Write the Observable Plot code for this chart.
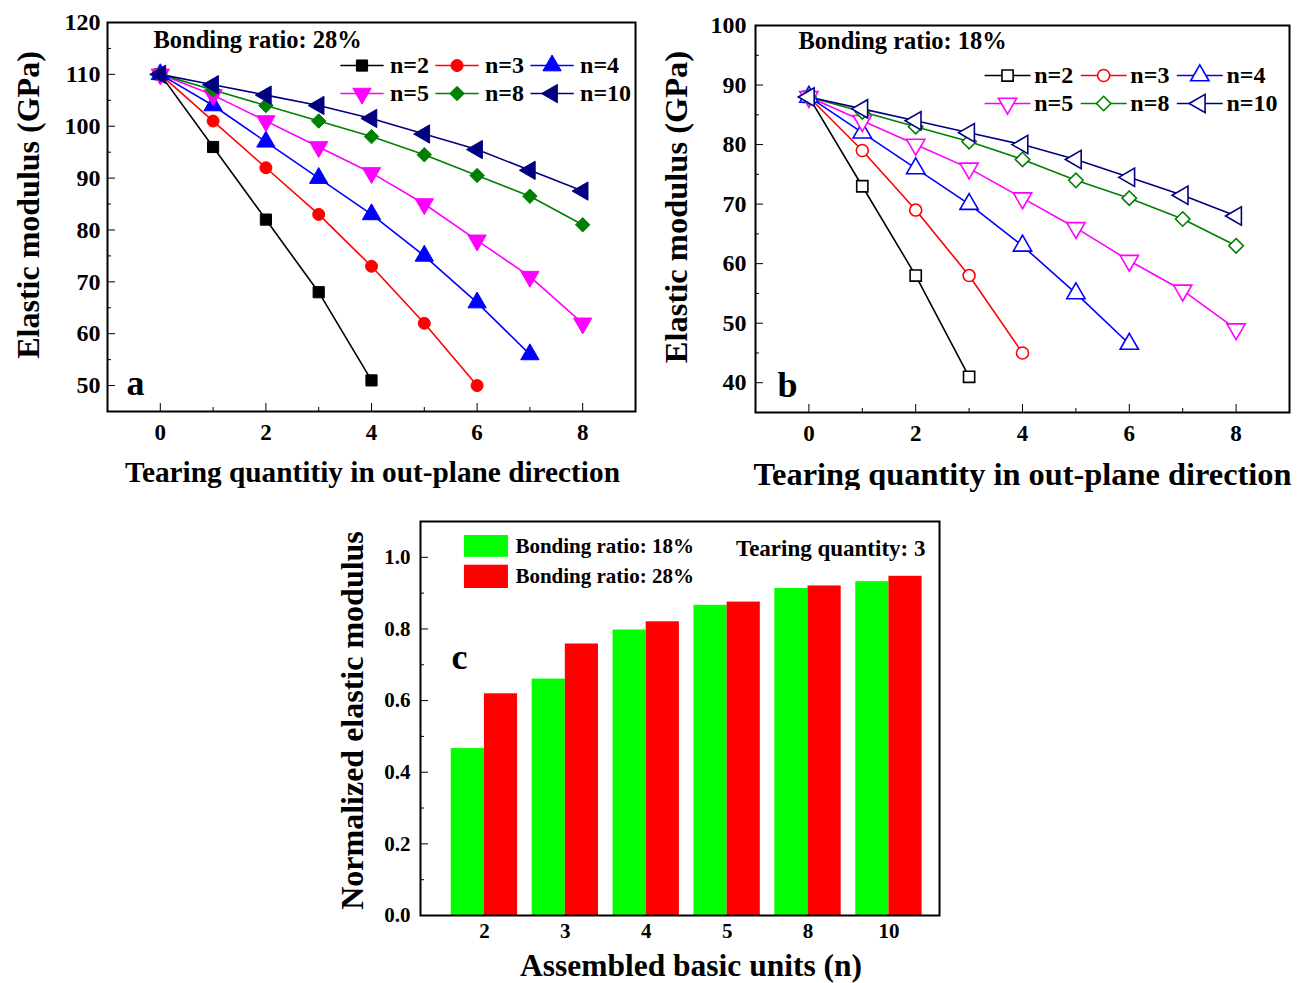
<!DOCTYPE html>
<html><head><meta charset="utf-8">
<script src="https://cdn.jsdelivr.net/npm/d3@7"></script>
<script src="https://cdn.jsdelivr.net/npm/@observablehq/plot@0.6"></script>
<style>
body{margin:0;background:#fff;}
#fig{position:relative;width:1300px;height:983px;background:#fff;overflow:hidden;}
.panel{position:absolute;}
</style></head><body>
<div id="fig">
  <div id="pa" class="panel" style="left:0px;top:0px"></div>
  <div id="pb" class="panel" style="left:650px;top:0px"></div>
  <div id="pc" class="panel" style="left:330px;top:490px"></div>
</div>
<script>
// ---------- data ----------
const tear = [0, 1, 2, 3, 4, 5, 6, 7, 8];
const seriesN = ["n=2", "n=3", "n=4", "n=5", "n=8", "n=10"];
const colors = ["#000000", "#ff0000", "#0000ff", "#ff00ff", "#008000", "#000080"];

// panel a: bonding ratio 28%
const a_n2  = [110, 96, 82, 68, 51];
const a_n3  = [110, 101, 92, 83, 73, 62, 50];
const a_n4  = [110, 104, 97, 90, 83, 75, 66, 56];
const a_n5  = [110, 106, 101, 96, 91, 85, 78, 71, 62];
const a_n8  = [110, 107, 104, 101, 98, 94.5, 90.5, 86.5, 81];
const a_n10 = [110, 108, 106, 104, 101.5, 98.5, 95.5, 91.5, 87.5];

// panel b: bonding ratio 18%
const b_n2  = [88, 73, 58, 41];
const b_n3  = [88, 79, 69, 58, 45];
const b_n4  = [88, 82, 76, 70, 63, 55, 46.5];
const b_n5  = [88, 84, 80, 76, 71, 66, 60.5, 55.5, 49];
const b_n8  = [88, 85.5, 83, 80.5, 77.5, 74, 71, 67.5, 63];
const b_n10 = [88, 86, 84, 82, 80, 77.5, 74.5, 71.5, 68];

// panel c: normalized modulus at tearing quantity 3
const units = ["2", "3", "4", "5", "8", "10"];
const norm18 = [0.466, 0.660, 0.797, 0.866, 0.913, 0.932];
const norm28 = [0.619, 0.758, 0.820, 0.875, 0.920, 0.947];

// ---------- helpers ----------
const FONT = "'Liberation Serif', 'Times New Roman', Times, serif";
const sqrt3 = Math.sqrt(3);
const triDown = {draw(ctx, size) {
  const y = -Math.sqrt(size / (sqrt3 * 3));
  ctx.moveTo(0, -y * 2); ctx.lineTo(-sqrt3 * y, y); ctx.lineTo(sqrt3 * y, y); ctx.closePath();
}};
const triLeft = {draw(ctx, size) {
  const y = -Math.sqrt(size / (sqrt3 * 3));
  ctx.moveTo(y * 2, 0); ctx.lineTo(-y, sqrt3 * y); ctx.lineTo(-y, -sqrt3 * y); ctx.closePath();
}};
const symbols = ["square", "circle", "triangle", triDown, "diamond2", triLeft];
const radii = [6.3, 6, 6.8, 6.8, 6.5, 6.8];

function rows(series) {
  const out = [];
  series.forEach((vals, si) => vals.forEach((v, i) => out.push({s: si, n: seriesN[si], t: tear[i], v})));
  return out;
}

const TXT = {fontWeight: "bold", textAnchor: "middle", lineAnchor: "middle"};

function linePanel(cfg) {
  const data = rows(cfg.series);
  const marks = [];
  // axes
  marks.push(Plot.axisY({ticks: cfg.yTicks, tickSize: 0, tickPadding: cfg.yPad, fontSize: cfg.tickFont, label: null}));
  marks.push(Plot.axisY({ticks: cfg.yTicks, tickSize: -8, tickFormat: () => "", label: null}));
  marks.push(Plot.axisY({ticks: cfg.yMinor, tickSize: -4, tickFormat: () => "", label: null}));
  marks.push(Plot.axisX({ticks: [0, 2, 4, 6, 8], tickSize: 0, tickPadding: cfg.xPad, fontSize: cfg.tickFont - 1, label: null}));
  marks.push(Plot.axisX({ticks: [0, 2, 4, 6, 8], tickSize: -8, tickFormat: () => "", label: null}));
  marks.push(Plot.axisX({ticks: [1, 3, 5, 7], tickSize: -4, tickFormat: () => "", label: null}));
  // series
  cfg.series.forEach((vals, si) => {
    const d = data.filter(r => r.s === si);
    marks.push(Plot.line(d, {x: "t", y: "v", stroke: colors[si], strokeWidth: 1.6}));
  });
  cfg.series.forEach((vals, si) => {
    const d = data.filter(r => r.s === si);
    marks.push(Plot.dot(d, {x: "t", y: "v", symbol: symbols[si], r: radii[si],
      fill: cfg.filled ? colors[si] : "white", stroke: colors[si], strokeWidth: cfg.filled ? 1 : 1.6}));
  });
  // legend
  const L = cfg.legend;
  const leg = seriesN.map((s, i) => {
    const col = i % 3, row = Math.floor(i / 3);
    const x1 = L.x0 + col * L.colStep;
    return {s, i, x1, x2: x1 + L.len, mx: x1 + L.len / 2, tx: x1 + L.len + L.gap, y: L.y0 - row * L.rowStep};
  });
  marks.push(Plot.link(leg, {x1: "x1", x2: "x2", y1: "y", y2: "y", stroke: (d) => colors[d.i], strokeWidth: 1.6}));
  leg.forEach((d, i) => marks.push(Plot.dot([d], {x: "mx", y: "y", symbol: symbols[i], r: radii[i],
    fill: cfg.filled ? colors[i] : "white", stroke: colors[i], strokeWidth: cfg.filled ? 1 : 1.6})));
  marks.push(Plot.text(leg, {...TXT, x: "tx", y: "y", text: "s", textAnchor: "start", fontSize: cfg.legFont}));
  // annotations
  marks.push(Plot.text([cfg.title], {...TXT, frameAnchor: "top-left", dx: cfg.titleDx, dy: cfg.titleDy, textAnchor: "start", fontSize: cfg.titleFont}));
  marks.push(Plot.text([cfg.letter], {...TXT, frameAnchor: "bottom-left", dx: cfg.letterDx, dy: cfg.letterDy, fontSize: 36}));
  marks.push(Plot.text([cfg.xLabel], {...TXT, frameAnchor: "bottom", dy: cfg.xLabDy, dx: cfg.xLabDx, fontSize: cfg.xLabFont}));
  marks.push(Plot.text([cfg.yLabel], {...TXT, frameAnchor: "left", dx: cfg.yLabDx, dy: cfg.yLabDy, rotate: -90, fontSize: cfg.yLabFont}));
  marks.push(Plot.frame({stroke: "black", strokeWidth: 2}));
  return Plot.plot({
    width: cfg.width, height: cfg.height,
    marginLeft: cfg.ml, marginRight: cfg.mr, marginTop: cfg.mt, marginBottom: cfg.mb,
    x: {domain: [-1, 9]},
    y: {domain: cfg.yDomain},
    style: {fontFamily: FONT, fontWeight: "bold", color: "black", background: "white", overflow: "visible"},
    marks
  });
}

// ---------- panel a ----------
document.getElementById("pa").appendChild(linePanel({
  series: [a_n2, a_n3, a_n4, a_n5, a_n8, a_n10], filled: true,
  width: 650, height: 490, ml: 107, mr: 15, mt: 22, mb: 79,
  yDomain: [45, 120], yTicks: d3.range(50, 121, 10), yMinor: d3.range(55, 120, 10),
  yPad: 7, xPad: 12, tickFont: 24, legFont: 24, titleFont: 24.5,
  legend: {x0: 3.41, colStep: 1.8, len: 0.82, gap: 0.12, y0: 111.7, rowStep: 5.4},
  title: "Bonding ratio: 28%", titleDx: 46, titleDy: 18,
  letter: "a", letterDx: 28, letterDy: -28,
  xLabel: "Tearing quantitiy in out-plane direction", xLabDy: 61, xLabDx: 1, xLabFont: 29.3,
  yLabel: "Elastic modulus (GPa)", yLabDx: -79, yLabDy: -12, yLabFont: 32
}));

// ---------- panel b ----------
document.getElementById("pb").appendChild(linePanel({
  series: [b_n2, b_n3, b_n4, b_n5, b_n8, b_n10], filled: false,
  width: 650, height: 490, ml: 105, mr: 11, mt: 25, mb: 78,
  yDomain: [35, 100], yTicks: d3.range(40, 101, 10), yMinor: d3.range(45, 100, 10),
  yPad: 9, xPad: 12, tickFont: 24, legFont: 24, titleFont: 24.5,
  legend: {x0: 3.29, colStep: 1.8, len: 0.86, gap: 0.07, y0: 91.6, rowStep: 4.7},
  title: "Bonding ratio: 18%", titleDx: 43, titleDy: 16,
  letter: "b", letterDx: 32, letterDy: -27,
  xLabel: "Tearing quantity in out-plane direction", xLabDy: 62, xLabDx: 0, xLabFont: 32.4,
  yLabel: "Elastic modulus (GPa)", yLabDx: -79, yLabDy: -12, yLabFont: 32.5
}));

// ---------- panel c ----------
const bars = units.flatMap((u, i) => [
  {u, i, ratio: "18%", v: norm18[i]},
  {u, i, ratio: "28%", v: norm28[i]}
]);
const halfW = 0.41;
const legC = [
  {label: "Bonding ratio: 18%", fill: "#00ff00", y1: 1.0, y2: 1.061, ty: 1.031},
  {label: "Bonding ratio: 28%", fill: "#ff0000", y1: 0.913, y2: 0.978, ty: 0.947}
];
document.getElementById("pc").appendChild(Plot.plot({
  width: 620, height: 493, marginLeft: 90, marginRight: 11, marginTop: 31, marginBottom: 68,
  x: {domain: [-0.79, 5.625]},
  y: {domain: [0, 1.1]},
  style: {fontFamily: FONT, fontWeight: "bold", color: "black", background: "white", overflow: "visible"},
  marks: [
    Plot.rectY(bars, {
      x1: d => d.i + (d.ratio === "18%" ? -halfW : 0),
      x2: d => d.i + (d.ratio === "18%" ? 0 : halfW),
      y: "v",
      fill: d => d.ratio === "18%" ? "#00ff00" : "#ff0000"
    }),
    Plot.axisY({ticks: d3.range(0, 1.01, 0.2), tickFormat: d3.format(".1f"), tickSize: 0, tickPadding: 10, fontSize: 21, label: null}),
    Plot.axisY({ticks: d3.range(0, 1.01, 0.2), tickSize: -8, tickFormat: () => "", label: null}),
    Plot.axisY({ticks: d3.range(0.1, 1.1, 0.2), tickSize: -4, tickFormat: () => "", label: null}),
    Plot.axisX({ticks: d3.range(units.length), tickFormat: i => units[i], tickSize: 0, tickPadding: 8, fontSize: 21, label: null}),
    Plot.rect(legC, {x1: -0.247, x2: 0.297, y1: "y1", y2: "y2", fill: d => d.fill}),
    Plot.text(legC, {...TXT, x: 0.383, y: "ty", text: "label", textAnchor: "start", fontSize: 21}),
    Plot.text(["Tearing quantity: 3"], {...TXT, frameAnchor: "top-right", dx: -14, dy: 27, textAnchor: "end", fontSize: 23}),
    Plot.text(["c"], {...TXT, frameAnchor: "top-left", dx: 39, dy: 136, fontSize: 36}),
    Plot.text(["Assembled basic units (n)"], {...TXT, frameAnchor: "bottom", dy: 50, dx: 11, fontSize: 31.5}),
    Plot.text(["Normalized elastic modulus"], {...TXT, frameAnchor: "left", dx: -68, dy: 2, rotate: -90, fontSize: 32}),
    Plot.frame({stroke: "black", strokeWidth: 2})
  ]
}));
</script>
</body></html>
